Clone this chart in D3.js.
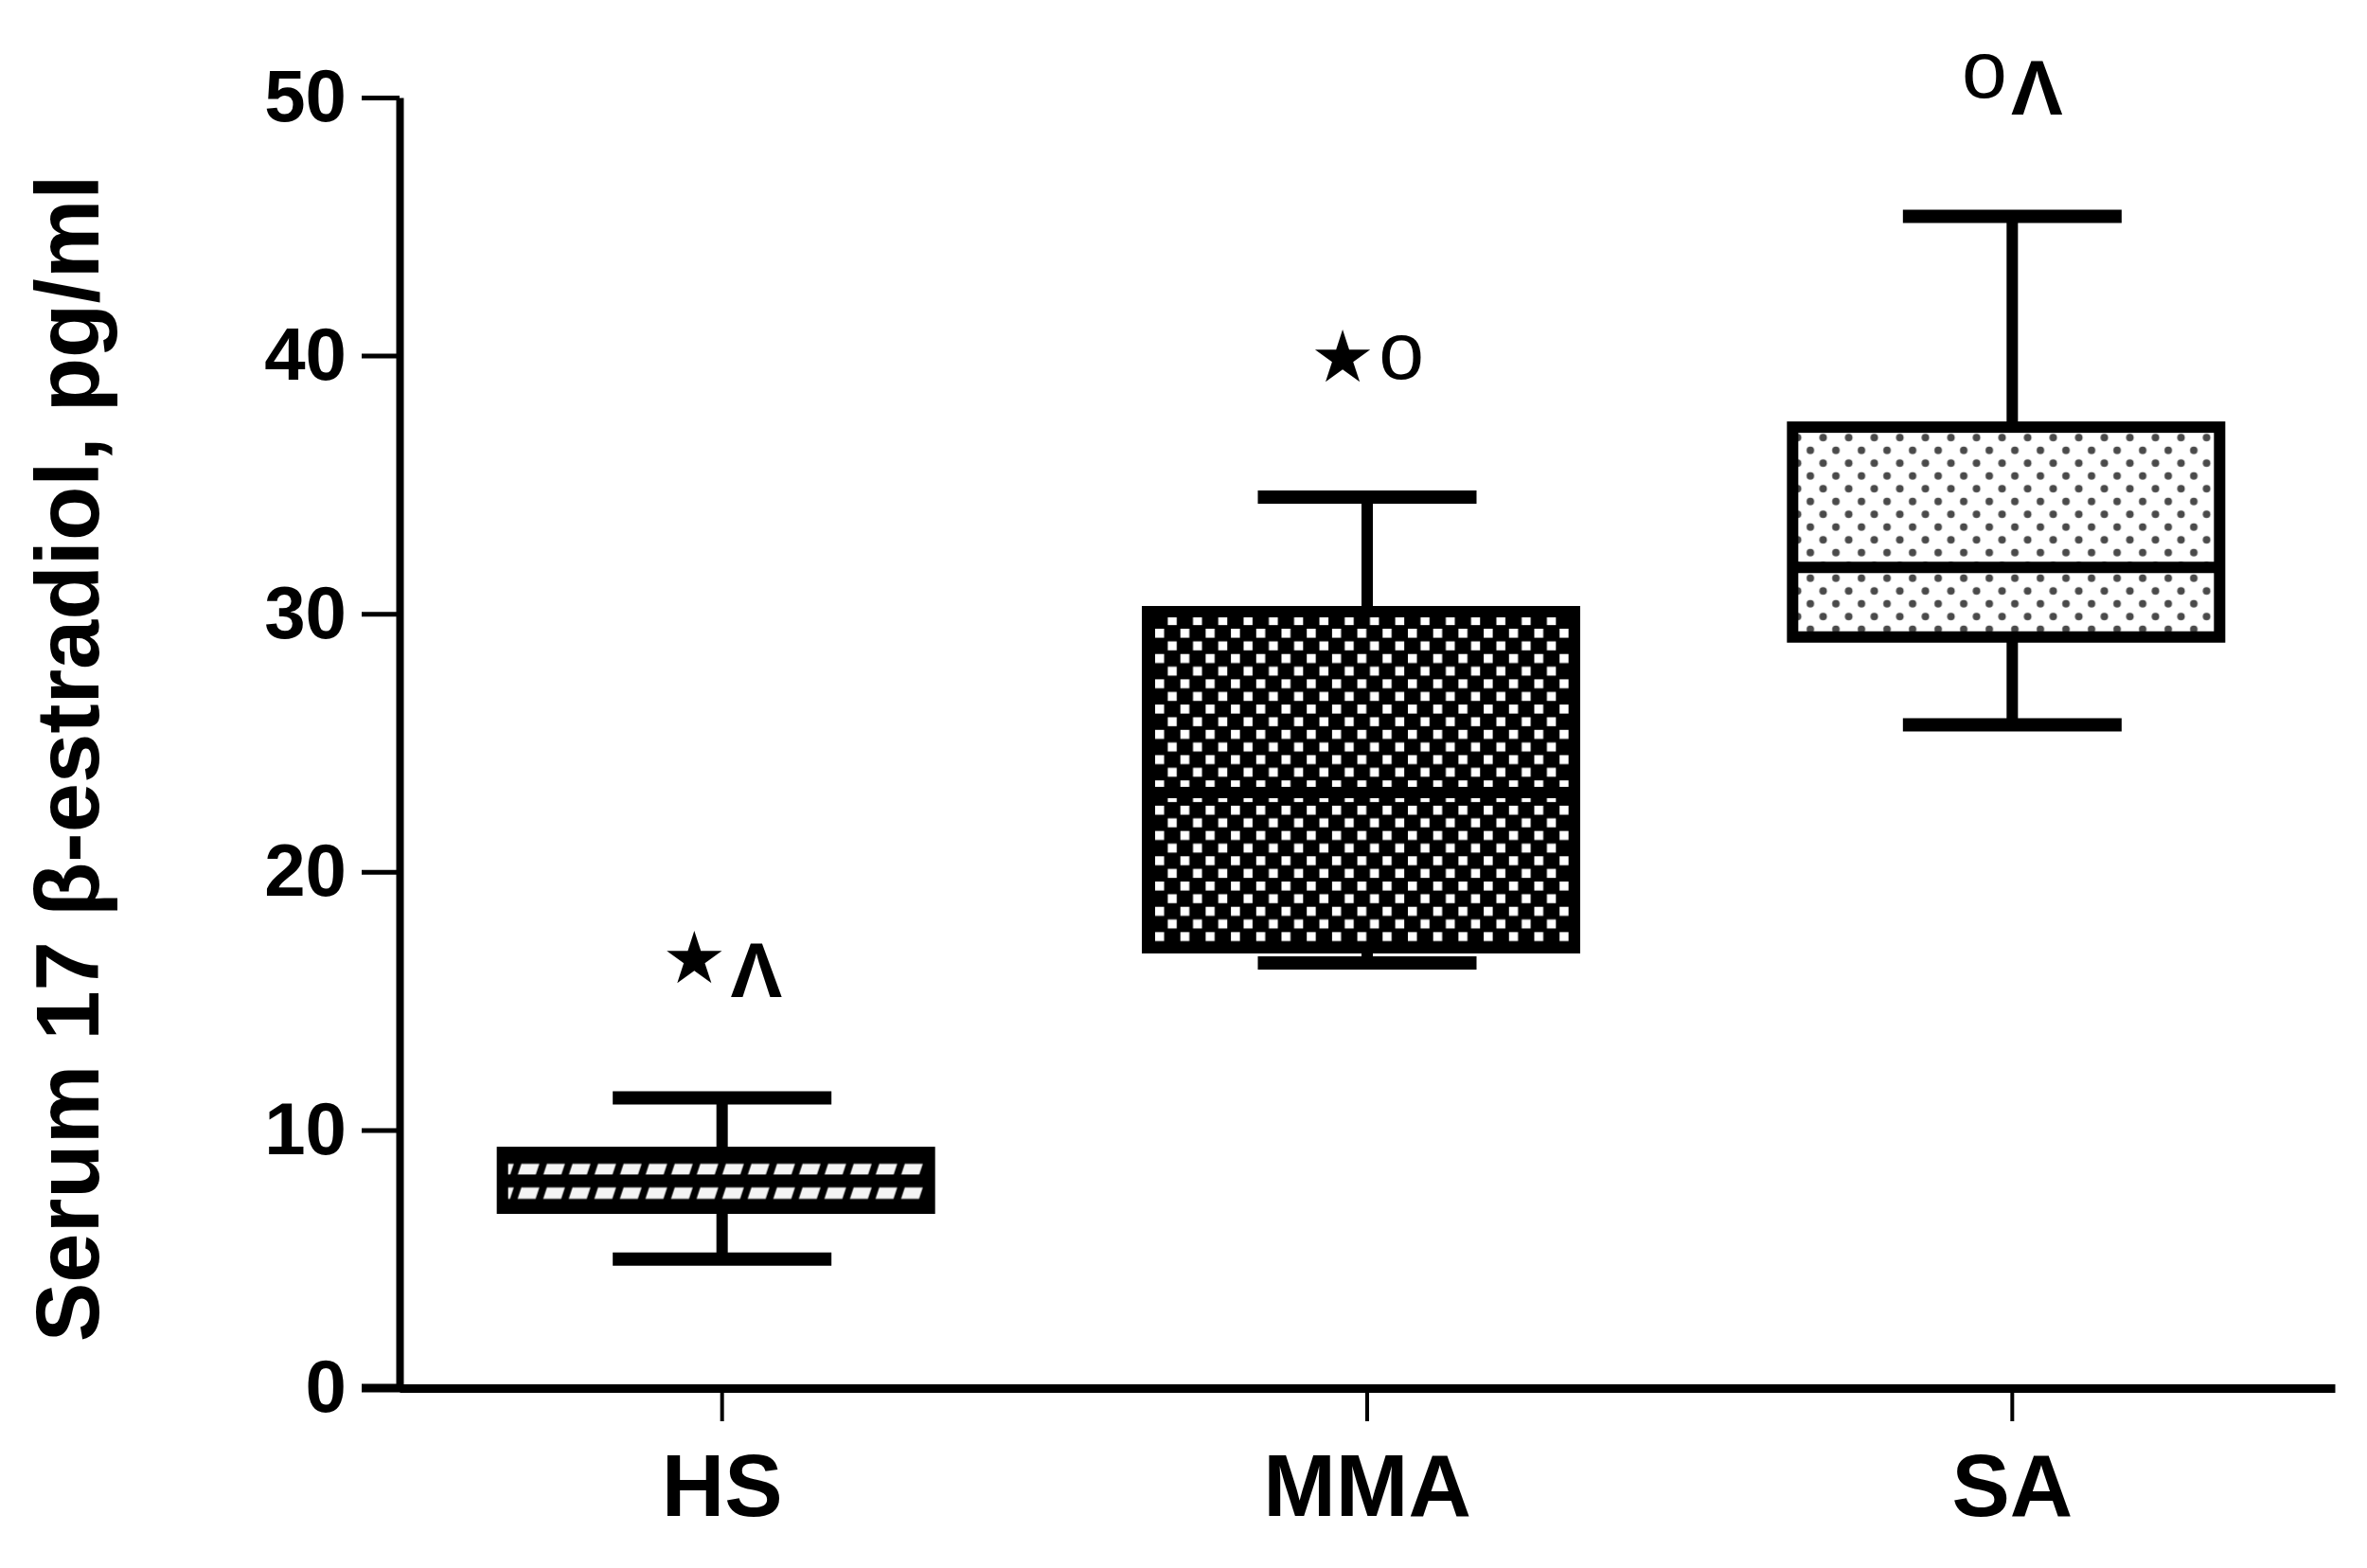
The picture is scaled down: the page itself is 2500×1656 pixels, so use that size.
<!DOCTYPE html>
<html>
<head>
<meta charset="utf-8">
<script src="https://cdn.jsdelivr.net/npm/d3@7"></script>
<style>
  html, body { margin: 0; padding: 0; background: #ffffff; }
  svg { display: block; }
</style>
</head>
<body>
<script>
// ---- Data ----
const categories   = ["HS", "MMA", "SA"];
const whiskerLow   = [5.0, 16.47, 25.7];
const q1Values     = [6.97, 17.06, 29.1];
const medianValues = [8.05, 23.07, 31.8];
const q3Values     = [9.13, 30.08, 37.23];
const whiskerHigh  = [11.24, 34.52, 45.4];
const annotationMarks = [["★", "Λ"], ["★", "o"], ["o", "Λ"]];
const yTicks = [0, 10, 20, 30, 40, 50];
const yLabel = "Serum 17 β-estradiol, pg/ml";

// ---- Layout ----
const W = 2500, H = 1656;
const FONT = "'Liberation Sans', Arial, Helvetica, sans-serif";

const svg = d3.select("body").append("svg")
  .attr("width", W).attr("height", H)
  .style("background", "#ffffff");

const y = d3.scaleLinear().domain([0, 50]).range([1466, 103]);
const x = d3.scaleBand().domain(categories).range([422, 2466]).padding(0);
const cx = c => x(c) + x.bandwidth() / 2;

const BOX_W = 451, BOX_SHIFT = -6.5, CAP_W = 231, STROKE = 12;

const defs = svg.append("defs");

// HS: black with white slanted dashes
function hsPattern(id, px, py) {
  const p = defs.append("pattern").attr("id", id).attr("patternUnits", "userSpaceOnUse")
    .attr("width", 27).attr("height", 25).attr("x", px).attr("y", py);
  p.append("rect").attr("width", 27).attr("height", 25).attr("fill", "#000");
  p.append("polygon").attr("points", "1,18.5 20,18.5 24,6.5 5,6.5").attr("fill", "#f4f4f4");
}
// MMA: dark checker with white squares
function mmaPattern(id, px, py) {
  const s = 26.7;
  const p = defs.append("pattern").attr("id", id).attr("patternUnits", "userSpaceOnUse")
    .attr("width", s).attr("height", s).attr("x", px).attr("y", py);
  p.append("rect").attr("width", s).attr("height", s).attr("fill", "#000");
  p.append("rect").attr("x", 2).attr("y", 2).attr("width", 9.5).attr("height", 9.5).attr("fill", "#fff");
  p.append("rect").attr("x", 2 + s / 2).attr("y", 2 + s / 2).attr("width", 9.5).attr("height", 9.5).attr("fill", "#fff");
}
// SA: white with grey dots
function saPattern(id, px, py) {
  const s = 27;
  const p = defs.append("pattern").attr("id", id).attr("patternUnits", "userSpaceOnUse")
    .attr("width", s).attr("height", s).attr("x", px).attr("y", py);
  p.append("rect").attr("width", s).attr("height", s).attr("fill", "#fff");
  p.append("circle").attr("cx", 6.75).attr("cy", 6.75).attr("r", 4).attr("fill", "#4a4a4a");
  p.append("circle").attr("cx", 20.25).attr("cy", 20.25).attr("r", 4).attr("fill", "#4a4a4a");
}
const patternMakers = [hsPattern, mmaPattern, saPattern];
const patternOffsets = [[15, 5.5], [6, 16], [12, 17.75]];

categories.forEach((c, i) => {
  const left = cx(c) + BOX_SHIFT - BOX_W / 2;
  patternMakers[i]("pat" + i, left + patternOffsets[i][0], y(q3Values[i]) + patternOffsets[i][1]);
});

// ---- Axes ----
const yAxis = svg.append("g")
  .attr("transform", "translate(422,0)")
  .call(d3.axisLeft(y).tickValues(yTicks).tickSize(40).tickSizeOuter(0).tickPadding(16));
yAxis.select(".domain").attr("stroke", "#000").attr("stroke-width", 8);
yAxis.selectAll(".tick line").attr("stroke", "#000").attr("stroke-width", 5);
yAxis.selectAll(".tick text")
  .attr("font-family", FONT).attr("font-weight", "bold").attr("font-size", 78).attr("fill", "#000");

const xAxis = svg.append("g")
  .attr("transform", "translate(0,1466)")
  .call(d3.axisBottom(x).tickSize(35).tickSizeOuter(0).tickPadding(35));
xAxis.select(".domain").attr("stroke", "#000").attr("stroke-width", 9);
xAxis.selectAll(".tick line").attr("stroke", "#000").attr("stroke-width", 4);
xAxis.selectAll(".tick text")
  .attr("font-family", FONT).attr("font-weight", "bold").attr("font-size", 92).attr("fill", "#000");
// extend x axis line to meet the left tick of 0
svg.append("line").attr("x1", 382).attr("x2", 426).attr("y1", 1466).attr("y2", 1466)
  .attr("stroke", "#000").attr("stroke-width", 9);

// ---- Y label ----
svg.append("text")
  .attr("transform", "translate(104,801) rotate(-90)")
  .attr("text-anchor", "middle")
  .attr("font-family", FONT).attr("font-weight", "bold").attr("font-size", 94)
  .attr("fill", "#000")
  .text(yLabel);

// ---- Boxes ----
const g = svg.append("g");
categories.forEach((c, i) => {
  const xc = cx(c);
  const left = xc + BOX_SHIFT - BOX_W / 2;
  // whiskers
  g.append("line").attr("x1", xc).attr("x2", xc)
    .attr("y1", y(whiskerHigh[i])).attr("y2", y(q3Values[i]))
    .attr("stroke", "#000").attr("stroke-width", STROKE);
  g.append("line").attr("x1", xc).attr("x2", xc)
    .attr("y1", y(q1Values[i])).attr("y2", y(whiskerLow[i]))
    .attr("stroke", "#000").attr("stroke-width", STROKE);
  [whiskerHigh[i], whiskerLow[i]].forEach(v => {
    g.append("line").attr("x1", xc - CAP_W / 2).attr("x2", xc + CAP_W / 2)
      .attr("y1", y(v)).attr("y2", y(v))
      .attr("stroke", "#000").attr("stroke-width", 14);
  });
  // box
  g.append("rect")
    .attr("x", left).attr("y", y(q3Values[i]))
    .attr("width", BOX_W).attr("height", y(q1Values[i]) - y(q3Values[i]))
    .attr("fill", "url(#pat" + i + ")")
    .attr("stroke", "#000").attr("stroke-width", STROKE);
  // median
  g.append("line").attr("x1", left).attr("x2", left + BOX_W)
    .attr("y1", y(medianValues[i])).attr("y2", y(medianValues[i]))
    .attr("stroke", "#000").attr("stroke-width", STROKE);

  // annotation
  const t = g.append("text")
    .attr("x", xc).attr("y", y(whiskerHigh[i]) - 107)
    .attr("text-anchor", "middle").attr("fill", "#000");
  let shift = 0; // current vertical offset from baseline
  annotationMarks[i].forEach((m, k) => {
    const ts = t.append("tspan").text(m);
    let target = 0, dx = 0;
    if (m === "★") {
      ts.attr("font-family", "'DejaVu Sans', sans-serif").attr("font-size", 76);
      target = -15;
    } else if (m === "o") {
      ts.attr("font-family", FONT).attr("font-size", 86);
      target = -18;
      dx = k > 0 ? 4 : 0;
    } else {
      ts.attr("font-family", FONT).attr("font-weight", "bold").attr("font-size", 82);
      target = 0;
      dx = k > 0 ? 4 : 0;
    }
    ts.attr("dy", target - shift).attr("dx", dx);
    shift = target;
  });
});
</script>
</body>
</html>
